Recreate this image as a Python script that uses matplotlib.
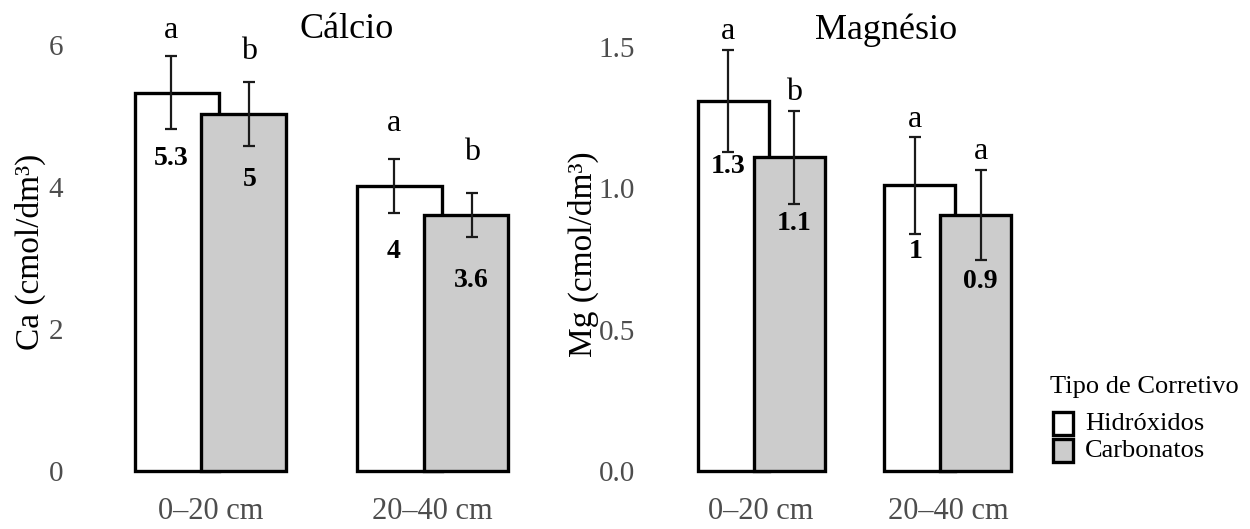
import matplotlib
matplotlib.use("Agg")
import matplotlib.pyplot as plt
from matplotlib.patches import Rectangle
import numpy as np

# ---------------- data ----------------
depths = ["0–20 cm", "20–40 cm"]
series = ["Hidróxidos", "Carbonatos"]

ca_hid = [5.33, 4.02]
ca_hid_sd = [0.51, 0.38]
ca_carb = [5.03, 3.61]
ca_carb_sd = [0.45, 0.31]
ca_hid_letters = ["a", "a"]
ca_carb_letters = ["b", "b"]

mg_hid = [1.31, 1.01]
mg_hid_sd = [0.18, 0.17]
mg_carb = [1.11, 0.905]
mg_carb_sd = [0.165, 0.16]
mg_hid_letters = ["a", "a"]
mg_carb_letters = ["b", "a"]

ca_ticks = [0, 2, 4, 6]
mg_ticks = [0.0, 0.5, 1.0, 1.5]

# ---------------- style ----------------
plt.rcParams["font.family"] = ["Liberation Serif", "DejaVu Serif"]
W, H = 1250, 529
fig = plt.figure(figsize=(W / 100, H / 100), dpi=100)

fills = ["white", "#cccccc"]
EDGE = "black"
TICK_COL = "#4d4d4d"
BAR_W = 0.38
BAR_OFF = 0.15
ERR_OFF = 0.175


def px_axes(left, right, bottom_px, top_px):
    return fig.add_axes([left / W, 1 - bottom_px / H, (right - left) / W, (bottom_px - top_px) / H])


def panel(ax, hid, hid_sd, carb, carb_sd, hid_let, carb_let, ticks, ytop, fmt):
    x = np.arange(1, len(depths) + 1)
    ax.set_xlim(0.4, 2.6)
    ax.set_ylim(0, ytop)
    ax_h_px = ax.get_position().height * H
    ppu = ax_h_px / ytop
    groups = [(hid, hid_sd, hid_let, -1), (carb, carb_sd, carb_let, 1)]
    for k, (vals, sds, lets, sgn) in enumerate(groups):
        ax.bar(x + sgn * BAR_OFF, vals, width=BAR_W, color=fills[k], edgecolor=EDGE,
               linewidth=2.4, zorder=2 + k, clip_on=False)
    for k, (vals, sds, lets, sgn) in enumerate(groups):
        xe = x + sgn * ERR_OFF
        ax.errorbar(xe, vals, yerr=sds, fmt="none", ecolor="#1a1a1a", elinewidth=1.6,
                    capsize=4, capthick=1.6, zorder=5)
        for xi, v, s, l in zip(xe, vals, sds, lets):
            y_let = max(v + 62 / ppu, v + s + 18 / ppu)
            ax.text(xi, y_let, l, ha="center", va="center", fontsize=23, zorder=6)
            ax.text(xi, v - 66 / ppu, f"{round(v, 1):g}", ha="center", va="center",
                    fontsize=20, fontweight="bold", zorder=6)
    ax.set_xticks(x)
    ax.set_xticklabels(depths, fontsize=22, color=TICK_COL)
    ax.set_yticks(ticks)
    ax.set_yticklabels([fmt.format(t) for t in ticks], fontsize=21, color=TICK_COL)
    ax.tick_params(axis="both", length=0)
    ax.tick_params(axis="y", pad=10)
    ax.tick_params(axis="x", pad=19)
    for sp in ax.spines.values():
        sp.set_visible(False)
    ax.patch.set_alpha(0)


ax1 = px_axes(77, 566, 471, 24)
panel(ax1, ca_hid, ca_hid_sd, ca_carb, ca_carb_sd, ca_hid_letters, ca_carb_letters,
      ca_ticks, (471 - 24) / 71.0, "{:g}")
ax2 = px_axes(649, 1060, 471, 24)
panel(ax2, mg_hid, mg_hid_sd, mg_carb, mg_carb_sd, mg_hid_letters, mg_carb_letters,
      mg_ticks, (471 - 24) / 282.7, "{:.1f}")

# titles
fig.text(347 / W, 1 - 38 / H, "Cálcio", ha="center", va="baseline", fontsize=26)
fig.text(886 / W, 1 - 39 / H, "Magnésio", ha="center", va="baseline", fontsize=26)

# y labels
fig.text(30 / W, 1 - 252 / H, "Ca (cmol/dm³)", rotation=90, ha="center", va="center", fontsize=24)
fig.text(583 / W, 1 - 254 / H, "Mg (cmol/dm³)", rotation=90, ha="center", va="center", fontsize=24)

# legend (manual, ggplot style)
fig.text(1050 / W, 1 - 387 / H, "Tipo de Corretivo", ha="left", va="center", fontsize=19)
key_tops = [412, 439]
for k, name in enumerate(series):
    top = key_tops[k]
    fig.add_artist(Rectangle((1053 / W, 1 - (top + 23) / H), 20 / W, 23 / H,
                             transform=fig.transFigure, facecolor=fills[k],
                             edgecolor=EDGE, linewidth=2.4))
    fig.text(1085 / W, 1 - (top + 12) / H, name, ha="left", va="center", fontsize=19)

fig.savefig("out.png", dpi=100)
